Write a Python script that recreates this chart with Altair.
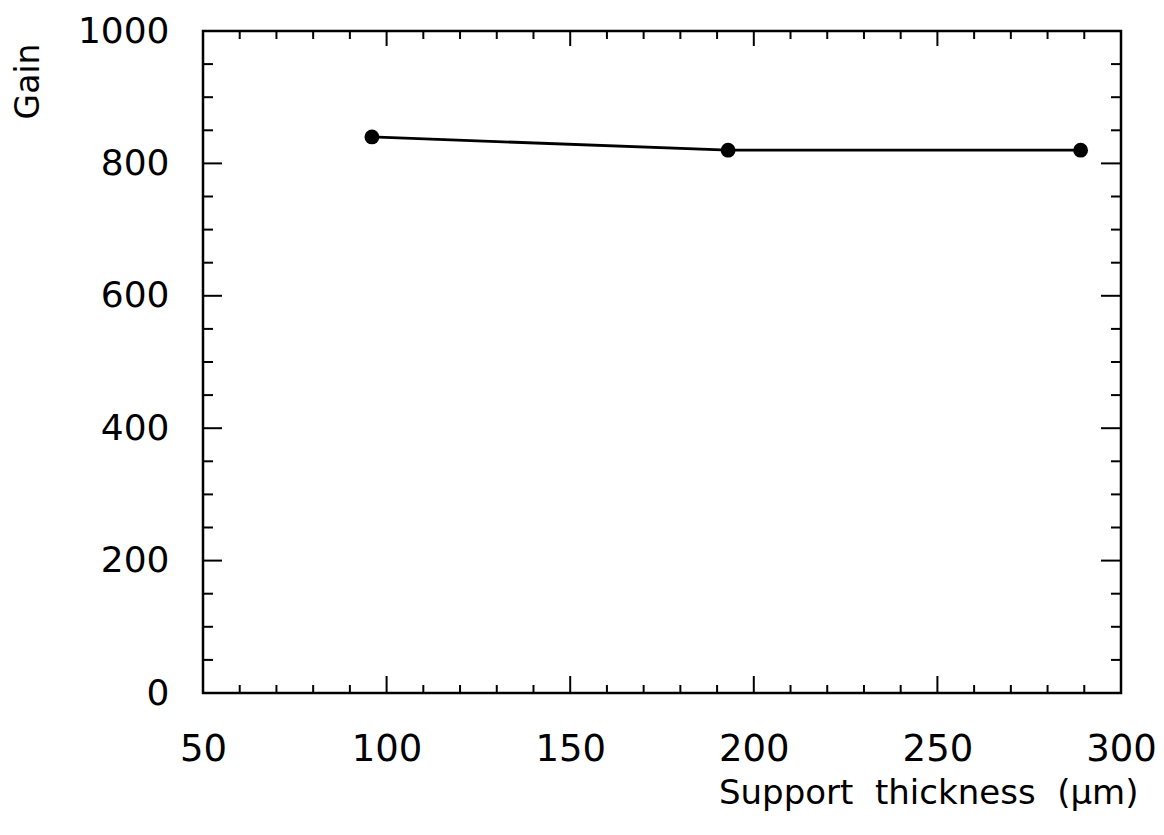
import altair as alt
import pandas as pd

# ---- data ----
thickness = [96, 193, 289]
gain = [840, 820, 820]

x_tick_labels = [50, 100, 150, 200, 250, 300]
y_tick_labels = [0, 200, 400, 600, 800, 1000]

x_major_ticks = [100, 150, 200, 250]
x_minor_ticks = [60, 70, 80, 90, 110, 120, 130, 140, 160, 170, 180, 190,
                 210, 220, 230, 240, 260, 270, 280, 290]
y_major_ticks = [200, 400, 600, 800]
y_minor_ticks = [50, 100, 150, 250, 300, 350, 450, 500, 550, 650, 700, 750,
                 850, 900, 950]

W, H = 918, 662
FONT = "DejaVu Sans"

xscale = alt.Scale(domain=[50, 300], nice=False, zero=False)
yscale = alt.Scale(domain=[0, 1000], nice=False, zero=False)

xaxis = alt.Axis(
    values=x_tick_labels, format="d", title="Support\u00a0 thickness\u00a0 (μm)",
    titleX=935, titleY=110, titleAlign="right", titleBaseline="alphabetic",
    titleFont=FONT, titleFontSize=34, titleFontWeight="normal", titleColor="black",
    labelFont=FONT, labelFontSize=37, labelColor="black", labelPadding=38,
    labelFlush=False, labelOverlap=False, labelBound=False,
    ticks=False, tickSize=0, domain=False, grid=False,
)
yaxis = alt.Axis(
    values=y_tick_labels, format="d", title="Gain",
    titleX=-165, titleY=12, titleAngle=270, titleAlign="right",
    titleBaseline="alphabetic",
    titleFont=FONT, titleFontSize=33, titleFontWeight="normal", titleColor="black",
    labelFont=FONT, labelFontSize=36, labelColor="black", labelPadding=34,
    labelFlush=False, labelOverlap=False, labelBound=False,
    ticks=False, tickSize=0, domain=False, grid=False,
)

xenc = alt.X("x:Q", scale=xscale, axis=xaxis)
yenc = alt.Y("y:Q", scale=yscale, axis=yaxis)

df = pd.DataFrame({"x": thickness, "y": gain})

line = alt.Chart(df).mark_line(color="black", strokeWidth=2.8).encode(x=xenc, y=yenc)
points = alt.Chart(df).mark_circle(size=220, color="black", opacity=1).encode(x=xenc, y=yenc)


def xticks(vals, y0, y1):
    d = pd.DataFrame({"x": vals})
    return alt.Chart(d).mark_rule(color="black", strokeWidth=2).encode(
        x=xenc, y=alt.value(y0), y2=alt.value(y1))


def yticks(vals, x0, x1):
    d = pd.DataFrame({"y": vals})
    return alt.Chart(d).mark_rule(color="black", strokeWidth=2).encode(
        y=yenc, x=alt.value(x0), x2=alt.value(x1))


tick_layers = [
    xticks(x_major_ticks, H, H - 17),
    xticks(x_minor_ticks, H, H - 8),
    xticks(x_major_ticks, 0, 15),
    xticks(x_minor_ticks, 0, 8),
    yticks(y_major_ticks, 0, 19),
    yticks(y_minor_ticks, 0, 10),
    yticks(y_major_ticks, W, W - 20),
    yticks(y_minor_ticks, W, W - 10),
]

chart = alt.layer(line, points, *tick_layers).properties(
    width=W, height=H,
    padding={"left": 195, "top": 23, "right": 35, "bottom": 130},
    autosize=alt.AutoSizeParams(type="none"),
    background="white",
).configure_view(stroke="black", strokeWidth=2.5)

chart.save("out.html", embed_options={"renderer": "svg", "actions": False})
